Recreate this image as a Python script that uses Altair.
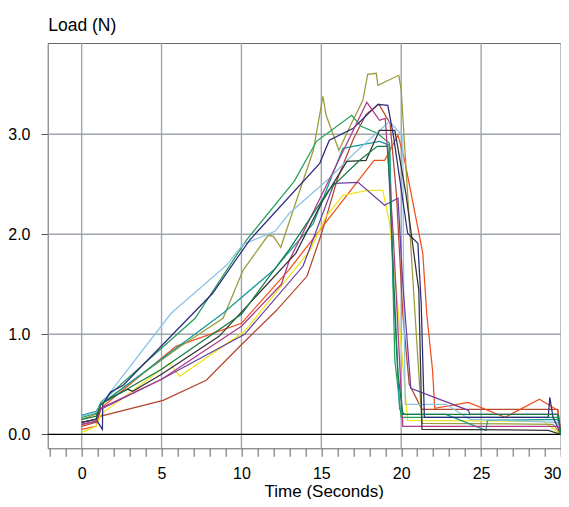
import altair as alt
import pandas as pd

# ---- series data (time in seconds, load in N) ----
brown_t = [0, 0.9, 1.15, 5.1, 7.8, 9.9, 12.2, 14.1, 15.0, 16.0, 17.0, 17.8, 18.6, 19.3, 19.7, 20.1, 20.5, 21.3, 29.8, 30.0]
brown_y = [0.08, 0.12, 0.18, 0.34, 0.54, 0.88, 1.24, 1.58, 2.0, 2.55, 2.95, 3.2, 3.3, 3.11, 2.4, 1.2, 0.5, 0.25, 0.25, 0.0]

orange_t = [0, 0.9, 1.2, 5.9, 10.0, 13.0, 16.35, 18.3, 18.96, 19.8, 20.2, 21.0, 21.35, 21.6, 21.96, 22.1, 24.2, 26.5, 28.65, 29.8, 30.0]
orange_y = [0.05, 0.08, 0.26, 0.88, 1.11, 1.65, 2.34, 2.74, 2.74, 2.99, 2.75, 2.1, 1.81, 1.2, 0.64, 0.26, 0.32, 0.17, 0.35, 0.24, 0.0]

yellow_t = [0, 0.9, 1.2, 5.5, 6.14, 10.2, 14.3, 15.3, 16.35, 17.9, 18.85, 19.27, 19.7, 20.4, 28.9, 30.0]
yellow_y = [0.02, 0.08, 0.2, 0.71, 0.58, 1.03, 1.84, 2.18, 2.39, 2.44, 2.44, 2.11, 1.44, 0.14, 0.13, 0.0]

olive_t = [0, 0.9, 1.2, 6.1, 8.85, 10.1, 11.67, 12.0, 12.46, 14.5, 15.1, 15.3, 16.1, 16.8, 17.6, 17.9, 18.44, 18.54, 19.85, 20.0, 20.9, 21.3, 29.5, 30.0]
olive_y = [0.15, 0.2, 0.3, 0.87, 1.16, 1.64, 1.99, 1.98, 1.87, 2.84, 3.38, 3.19, 2.84, 3.08, 3.34, 3.6, 3.61, 3.49, 3.59, 3.44, 1.11, 0.11, 0.1, 0.0]

green_t = [0, 0.9, 1.2, 7.1, 10.3, 13.3, 14.7, 16.9, 17.5, 18.5, 19.27, 19.6, 20.0, 29.8, 30.0]
green_y = [0.17, 0.21, 0.32, 1.16, 1.94, 2.53, 2.93, 3.19, 3.08, 3.01, 2.91, 0.74, 0.17, 0.17, 0.0]

teal_t = [0, 0.9, 1.2, 8.85, 12.0, 14.5, 16.35, 18.64, 19.27, 19.5, 19.9, 20.2, 22.8, 25.3, 25.4, 29.8, 30.0]
teal_y = [0.19, 0.23, 0.3, 1.21, 1.64, 2.11, 2.86, 2.93, 2.89, 1.5, 0.25, 0.2, 0.2, 0.04, 0.14, 0.15, 0.0]

lightblue_t = [0, 0.9, 1.2, 5.6, 9.06, 10.1, 12.1, 13.0, 15.5, 17.0, 19.27, 20.1, 20.15, 20.25, 22.8, 24.3, 29.8, 30.0]
lightblue_y = [0.18, 0.22, 0.3, 1.21, 1.69, 1.9, 2.03, 2.21, 2.56, 2.8, 3.13, 2.98, 1.5, 0.3, 0.3, 0.15, 0.12, 0.0]

navy_t = [0, 0.9, 1.3, 1.32, 1.8, 2.6, 8.2, 10.5, 14.9, 15.5, 17.0, 18.54, 19.16, 19.5, 20.4, 21.04, 21.25, 21.45, 29.2, 29.3, 29.5, 30.0]
navy_y = [0.12, 0.15, 0.05, 0.3, 0.42, 0.49, 1.41, 1.94, 2.71, 2.94, 3.06, 3.3, 3.29, 3.0, 2.01, 1.91, 1.31, 0.17, 0.17, 0.37, 0.17, 0.0]

purple_t = [0, 0.9, 1.2, 5.0, 10.2, 13.85, 15.8, 17.3, 18.96, 19.8, 20.1, 20.6, 24.2, 24.3, 29.8, 30.0]
purple_y = [0.1, 0.13, 0.25, 0.55, 1.0, 1.68, 2.51, 2.52, 2.29, 2.36, 1.5, 0.46, 0.24, 0.2, 0.2, 0.0]

magenta_t = [0, 0.9, 1.2, 5.0, 10.0, 12.5, 13.0, 15.6, 17.85, 18.64, 19.0, 19.5, 20.1, 29.8, 30.0]
magenta_y = [0.1, 0.13, 0.26, 0.55, 1.08, 1.5, 1.74, 2.58, 3.32, 3.14, 3.16, 2.0, 0.08, 0.08, 0.0]

black_t = [0, 0.9, 1.2, 2.0, 2.9, 3.2, 5.0, 8.6, 13.4, 15.1, 16.6, 17.8, 18.64, 19.6, 20.3, 21.1, 21.3, 29.2, 30.0]
black_y = [0.12, 0.15, 0.3, 0.38, 0.45, 0.43, 0.6, 0.98, 1.81, 2.34, 2.73, 2.74, 3.04, 3.04, 2.4, 1.44, 0.05, 0.04, 0.0]

dkgreen_t = [0, 0.9, 1.2, 5.0, 10.0, 13.0, 15.5, 17.4, 18.5, 19.16, 19.4, 19.8, 20.1, 29.8, 30.0]
dkgreen_y = [0.15, 0.18, 0.3, 0.65, 1.2, 1.85, 2.45, 2.74, 2.88, 2.88, 2.0, 0.6, 0.2, 0.2, 0.0]

series_names = ["brown", "orange", "yellow", "olive", "green", "teal", "lightblue",
                "navy", "purple", "magenta", "black", "dkgreen"]
series_colors = ["#B4462E", "#F04E1C", "#EDE51A", "#9B9B3B", "#1FA055", "#17989A", "#8CC3E6",
                 "#2D2A7E", "#6B3FA0", "#B13A8D", "#333333", "#167A45"]
series_data = [(brown_t, brown_y), (orange_t, orange_y), (yellow_t, yellow_y), (olive_t, olive_y),
               (green_t, green_y), (teal_t, teal_y), (lightblue_t, lightblue_y), (navy_t, navy_y),
               (purple_t, purple_y), (magenta_t, magenta_y), (black_t, black_y), (dkgreen_t, dkgreen_y)]

x_ticks = list(range(-2, 31))
x_grid = [0, 5, 10, 15, 20, 25, 30]
y_ticks = [0, 1, 2, 3]
y_grid = [1, 2, 3]

rows = []
for name, (ts, ys) in zip(series_names, series_data):
    for i, (t, y) in enumerate(zip(ts, ys)):
        rows.append({"series": name, "t": t, "load": y, "idx": i})
df = pd.DataFrame(rows)

FONT = "Liberation Sans"
xscale = alt.Scale(domain=[-2.125, 30.0], nice=False, zero=False)
yscale = alt.Scale(domain=[-0.14, 3.913], nice=False, zero=False)

xaxis = alt.Axis(values=x_ticks, grid=False, domain=False, tickSize=8, tickColor="#666666",
                 tickWidth=1,
                 labelExpr="(datum.value >= 0 && datum.value % 5 == 0) ? datum.label : ''",
                 labelOverlap=False, labelFlush=True, labelBound=False, labelPadding=9,
                 labelFontSize=16, labelColor="#000000", labelFont=FONT,
                 title="Time (Seconds)", titleFont=FONT,
                 titleFontSize=17, titleFontWeight="normal", titleColor="#000000",
                 titleX=276, titleY=47.7, titleBaseline="alphabetic", titleAnchor="start",
                 titleAlign="center")
yaxis = alt.Axis(values=y_ticks, grid=False, domain=False, format=".1f", tickSize=6.7,
                 tickColor="#555555", tickWidth=1, labelPadding=11, labelFontSize=16,
                 labelOverlap=False, labelColor="#000000", labelFont=FONT,
                 title="Load (N)", titleFont=FONT,
                 titleFontSize=17.5, titleFontWeight="normal", titleColor="#000000",
                 titleAngle=0, titleAlign="left", titleX=0, titleY=-12.3,
                 titleBaseline="alphabetic", titleAnchor="start")

vgrid = alt.Chart(pd.DataFrame({"g": x_grid})).mark_rule(color="#9DA5AD", strokeWidth=1.4).encode(
    x=alt.X("g:Q", scale=xscale, axis=xaxis))
hgrid = alt.Chart(pd.DataFrame({"g": y_grid})).mark_rule(color="#9DA5AD", strokeWidth=1.4).encode(
    y=alt.Y("g:Q", scale=yscale, axis=yaxis))
zero = alt.Chart(pd.DataFrame({"z": [0]})).mark_rule(color="#000000", strokeWidth=1.2).encode(
    y=alt.Y("z:Q", scale=yscale, axis=yaxis))

lines = alt.Chart(df).mark_line(strokeWidth=1.25).encode(
    x=alt.X("t:Q", scale=xscale, axis=xaxis),
    y=alt.Y("load:Q", scale=yscale, axis=yaxis),
    color=alt.Color("series:N", scale=alt.Scale(domain=series_names, range=series_colors), legend=None),
    order=alt.Order("idx:Q"),
)

chart = alt.layer(vgrid, hgrid, zero, lines).properties(
    width=513.3, height=405.3,
    autosize=alt.AutoSizeParams(type="none"),
    padding={"left": 39.7, "top": 35, "right": 0, "bottom": 50.7},
    background="#ffffff",
).configure_view(stroke="#666666", strokeWidth=1).configure_axis(labelOverlap=False)

chart.save("out.html", embed_options={"renderer": "svg", "actions": False})
